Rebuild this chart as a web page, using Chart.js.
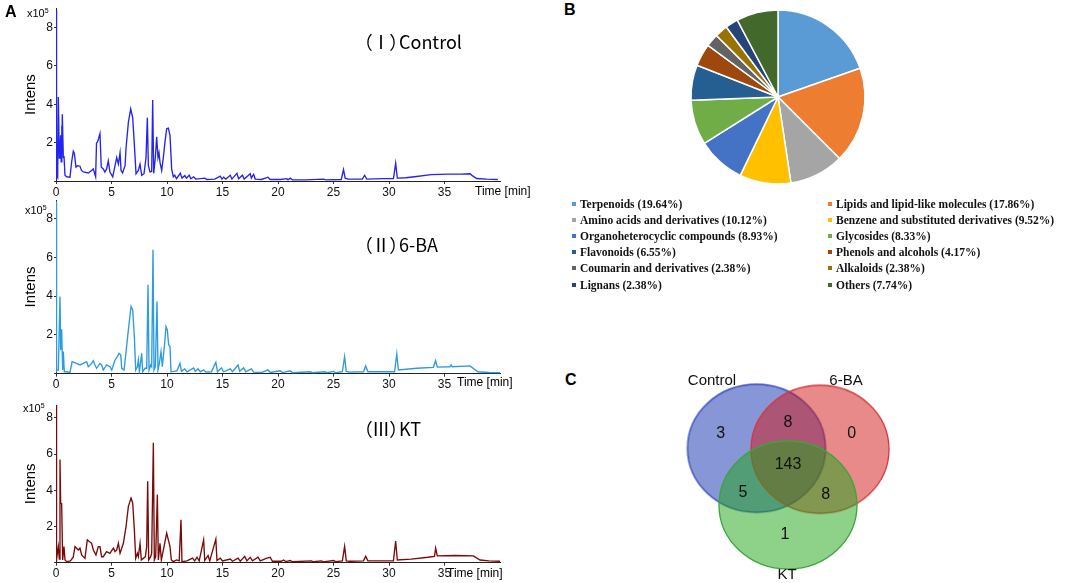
<!DOCTYPE html>
<html>
<head>
<meta charset="utf-8">
<script src="https://cdn.jsdelivr.net/npm/chart.js@4.4.1/dist/chart.umd.min.js"></script>
<style>
  body { margin: 0; background: #fff; width: 1084px; height: 583px; position: relative; overflow: hidden; font-family: "Liberation Sans", Arial, sans-serif; }
  canvas { position: absolute; }
  .t { position: absolute; white-space: nowrap; color: #000; line-height: 1; }
  .letter { font-weight: bold; font-size: 16px; }
  .exp { font-size: 11px; }
  .exp sup { font-size: 7px; vertical-align: 4px; }
  .ttl { font-family: "Noto Sans CJK SC", "Noto Sans", sans-serif; font-size: 18px; font-feature-settings: "palt"; }
  .time { font-size: 12px; }
  .leg { position: absolute; white-space: nowrap; font-family: "Liberation Serif", "Times New Roman", serif; font-weight: bold; font-size: 11.5px; line-height: 16px; color: #111; }
  .leg i { display: inline-block; width: 4px; height: 4px; margin-right: 4px; vertical-align: 2px; }
</style>
</head>
<body>
<canvas id="controlChart" width="520" height="200" style="left:0;top:0"></canvas>
<canvas id="baChart" width="520" height="196" style="left:0;top:192px"></canvas>
<canvas id="ktChart" width="520" height="193" style="left:0;top:390px"></canvas>
<canvas id="pieChart" width="190" height="190" style="left:683px;top:2px"></canvas>
<canvas id="vennChart" width="280" height="223" style="left:650px;top:360px"></canvas>

<div class="t letter" style="left:5px;top:4px">A</div>
<div class="t letter" style="left:564px;top:2px">B</div>
<div class="t letter" style="left:565px;top:372px">C</div>

<div class="t exp" style="left:27px;top:7px">x10<sup>5</sup></div>
<div class="t exp" style="left:25px;top:204px">x10<sup>5</sup></div>
<div class="t exp" style="left:23px;top:402px">x10<sup>5</sup></div>

<div class="t ttl" style="left:363px;top:32px">（Ⅰ）Control</div>
<div class="t ttl" style="left:363px;top:235px">（Ⅱ）6-BA</div>
<div class="t ttl" style="left:363px;top:419px">（Ⅲ）KT</div>

<div class="t time" style="left:475px;top:185px">Time [min]</div>
<div class="t time" style="left:457px;top:376px">Time [min]</div>
<div class="t time" style="left:447px;top:567px">Time [min]</div>

<div id="pieLegend"></div>

<script>
// time axis ticks (min) and intensity ticks (x10^5)
const timeTicks = [0, 5, 10, 15, 20, 25, 30, 35];
const intensTicks = [0, 2, 4, 6, 8];

// [time (min), intensity (x10^5)]
const controlTrace = [
  [0, 0.1], [0.02, 8.9], [0.08, 0.3], [0.15, 0.2], [0.21, 4.38], [0.3, 1.2], [0.36, 1.55], [0.42, 2.38], [0.47, 1.0],
  [0.51, 2.88], [0.54, 1.5], [0.57, 3.47], [0.66, 1.22], [0.72, 1.3], [0.81, 0.3], [0.96, 0.22], [1.26, 0.2], [1.41, 1.0],
  [1.56, 1.55], [1.65, 1.45], [1.8, 0.72], [1.95, 0.8], [2.16, 0.77], [2.3, 0.55], [2.46, 0.47], [2.91, 0.42], [3.21, 0.55],
  [3.36, 0.63], [3.57, 0.22], [3.65, 1.97], [3.75, 2.05], [3.84, 2.22], [3.96, 2.47], [4.08, 0.72], [4.26, 0.63], [4.4, 0.47],
  [4.56, 0.63], [4.71, 1.05], [4.86, 0.47], [5.11, 0.22], [5.32, 0.8], [5.47, 1.22], [5.62, 0.88], [5.77, 1.47], [5.86, 0.55],
  [6.0, 0.42], [6.22, 0.8], [6.31, 1.72], [6.52, 3.05], [6.73, 3.75], [6.91, 3.3], [7.06, 1.88], [7.21, 0.38], [7.42, 0.55],
  [7.57, 0.88], [7.72, 0.3], [7.93, 0.38], [8.11, 1.22], [8.23, 3.3], [8.32, 0.8], [8.47, 0.47], [8.62, 0.5], [8.71, 4.22],
  [8.8, 0.4], [8.95, 1.22], [9.07, 2.3], [9.19, 1.22], [9.28, 1.47], [9.37, 0.97], [9.52, 0.55], [9.67, 1.22], [9.82, 2.05],
  [9.97, 2.72], [10.12, 2.75], [10.27, 2.38], [10.42, 0.63], [10.57, 0.22], [10.7, 0.3], [10.85, 0.12], [11.2, 0.4],
  [11.35, 0.15], [11.6, 0.28], [11.75, 0.15], [12.0, 0.3], [12.15, 0.12], [12.4, 0.22], [12.6, 0.1], [13.4, 0.15], [13.6, 0.08],
  [14.3, 0.1], [14.8, 0.25], [14.95, 0.1], [15.1, 0.2], [15.3, 0.1], [15.7, 0.3], [15.85, 0.1], [16.3, 0.4], [16.45, 0.12],
  [16.8, 0.3], [16.95, 0.1], [17.5, 0.38], [17.6, 0.15], [17.8, 0.35], [17.95, 0.1], [18.5, 0.08], [19.1, 0.2], [19.3, 0.08],
  [20.2, 0.08], [20.8, 0.12], [20.9, 0.06], [21.1, 0.15], [21.3, 0.06], [22.5, 0.06], [24.1, 0.1], [24.3, 0.06], [25.7, 0.08],
  [25.9, 0.6], [26.05, 0.15], [26.3, 0.1], [27.6, 0.1], [27.8, 0.3], [28.0, 0.1], [29.5, 0.12], [30.4, 0.12], [30.6, 0.92],
  [30.75, 0.15], [31.5, 0.17], [32.3, 0.22], [33.8, 0.33], [35.3, 0.36], [36.5, 0.36], [37.3, 0.38], [37.5, 0.28], [37.9, 0.13],
  [38.8, 0.1], [39.8, 0.08]
];

const baTrace = [
  [0, 0.1], [0.02, 8.9], [0.08, 0.2], [0.21, 0.19], [0.36, 3.98], [0.42, 1.22], [0.51, 2.29], [0.6, 0.19], [0.66, 1.14],
  [0.75, 0.1], [0.96, 0.1], [1.26, 0.05], [1.45, 0.62], [1.56, 0.6], [1.86, 0.53], [2.16, 0.45], [2.46, 0.53], [2.76, 0.62],
  [2.91, 0.36], [3.21, 0.53], [3.36, 0.67], [3.51, 0.45], [3.66, 0.28], [3.96, 0.53], [4.11, 0.45], [4.26, 0.19], [4.56, 0.45],
  [4.86, 0.36], [5.02, 0.19], [5.32, 0.71], [5.53, 0.88], [5.68, 1.05], [5.83, 0.97], [5.92, 0.28], [6.13, 0.19], [6.31, 1.14],
  [6.52, 2.26], [6.76, 3.47], [6.91, 3.29], [7.06, 1.91], [7.18, 0.19], [7.33, 0.36], [7.42, 0.71], [7.51, 0.1], [7.72, 1.05],
  [7.81, 0.1], [8.02, 0.28], [8.17, 0.28], [8.29, 4.59], [8.38, 0.19], [8.53, 0.45], [8.62, 0.36], [8.74, 6.4], [8.83, 0.19],
  [8.95, 0.36], [9.1, 3.72], [9.19, 0.19], [9.31, 0.53], [9.46, 1.14], [9.58, 0.36], [9.76, 1.4], [9.91, 2.43], [10.03, 2.26],
  [10.15, 1.48], [10.27, 1.4], [10.36, 0.1], [10.6, 0.12], [10.9, 0.15], [11.17, 0.53], [11.3, 0.12], [11.6, 0.25], [11.8, 0.1],
  [12.4, 0.3], [12.55, 0.12], [12.8, 0.25], [13.0, 0.1], [13.3, 0.2], [13.5, 0.08], [14.0, 0.1], [14.4, 0.59], [14.55, 0.1],
  [14.9, 0.3], [15.1, 0.1], [15.7, 0.25], [15.9, 0.1], [16.4, 0.45], [16.55, 0.12], [16.9, 0.3], [17.1, 0.1], [17.6, 0.25],
  [17.8, 0.08], [18.5, 0.06], [19.1, 0.2], [19.3, 0.06], [20.2, 0.15], [20.4, 0.06], [21.1, 0.15], [21.3, 0.05], [22.9, 0.1],
  [23.1, 0.05], [24.2, 0.1], [24.4, 0.05], [25.0, 0.12], [25.2, 0.05], [25.8, 0.1], [26.0, 0.88], [26.15, 0.12], [26.4, 0.08],
  [27.7, 0.1], [27.9, 0.4], [28.1, 0.1], [30.5, 0.1], [30.7, 1.02], [30.85, 0.19], [32.5, 0.28], [34.0, 0.33], [34.2, 0.67],
  [34.35, 0.34], [35.5, 0.36], [35.6, 0.45], [35.7, 0.36], [37.3, 0.4], [38.0, 0.1], [39.0, 0.06], [40.0, 0.05]
];

const ktTrace = [
  [0, 0.1], [0.02, 8.7], [0.08, 0.2], [0.21, 0.89], [0.3, 0.2], [0.36, 5.7], [0.42, 3.3], [0.51, 3.26], [0.6, 0.15],
  [0.72, 0.89], [0.81, 0.15], [0.96, 0.06], [1.3, 0.1], [1.55, 0.3], [1.71, 0.89], [1.86, 0.8], [2.01, 0.7], [2.16, 0.8],
  [2.31, 0.43], [2.61, 0.24], [2.82, 1.26], [3.0, 1.17], [3.21, 1.07], [3.36, 0.7], [3.6, 0.43], [3.81, 0.89], [3.96, 0.89],
  [4.11, 0.33], [4.26, 0.33], [4.56, 0.61], [4.86, 0.52], [5.17, 0.8], [5.32, 0.61], [5.47, 0.7], [5.62, 1.07], [5.77, 0.52],
  [5.92, 0.8], [6.07, 1.07], [6.31, 2.0], [6.52, 3.11], [6.76, 3.57], [6.91, 3.3], [7.06, 1.81], [7.18, 0.24], [7.33, 0.52],
  [7.42, 0.33], [7.57, 1.07], [7.69, 0.15], [7.87, 0.24], [8.05, 0.33], [8.17, 0.89], [8.26, 4.5], [8.35, 0.15], [8.53, 0.33],
  [8.62, 0.52], [8.77, 6.63], [8.86, 0.15], [8.98, 0.33], [9.13, 3.76], [9.22, 0.15], [9.37, 1.07], [9.49, 0.15], [9.67, 0.7],
  [9.82, 1.17], [9.97, 1.63], [10.12, 1.26], [10.27, 0.89], [10.39, 0.15], [10.57, 0.06], [10.87, 0.15], [11.1, 0.1],
  [11.26, 2.37], [11.35, 0.06], [11.8, 0.1], [12.3, 0.25], [12.5, 0.1], [12.7, 0.3], [12.9, 0.1], [13.3, 1.26], [13.4, 0.12],
  [13.7, 0.4], [13.85, 0.1], [14.4, 1.3], [14.5, 0.12], [14.8, 0.25], [15.0, 0.1], [15.7, 0.2], [15.9, 0.08], [16.4, 0.25],
  [16.6, 0.08], [17.0, 0.35], [17.2, 0.1], [17.5, 0.3], [17.7, 0.1], [18.2, 0.3], [18.4, 0.1], [19.0, 0.25], [19.3, 0.3],
  [19.5, 0.08], [20.3, 0.08], [20.5, 0.15], [20.7, 0.06], [21.1, 0.12], [21.3, 0.05], [23.0, 0.1], [23.2, 0.05], [23.9, 0.1],
  [24.1, 0.05], [25.0, 0.12], [25.2, 0.06], [25.8, 0.1], [26.0, 0.9], [26.15, 0.1], [26.5, 0.08], [27.7, 0.1], [27.9, 0.35],
  [28.1, 0.1], [30.4, 0.1], [30.6, 1.2], [30.75, 0.15], [32.0, 0.2], [33.5, 0.3], [34.1, 0.35], [34.2, 0.8], [34.35, 0.38],
  [36.0, 0.4], [37.6, 0.38], [38.2, 0.15], [39.0, 0.1], [40.0, 0.08]
];

// compound classes (%)
const classLabels = [
  "Terpenoids", "Lipids and lipid-like molecules", "Amino acids and derivatives", "Benzene and substituted derivatives",
  "Organoheterocyclic compounds", "Glycosides", "Flavonoids", "Phenols and alcohols",
  "Coumarin and derivatives", "Alkaloids", "Lignans", "Others"
];
const classShares = [19.64, 17.86, 10.12, 9.52, 8.93, 8.33, 6.55, 4.17, 2.38, 2.38, 2.38, 7.74];
const classColors = ['#5b9bd5', '#ed7d31', '#a5a5a5', '#ffc000', '#4472c4', '#70ad47', '#255e91', '#9e480e',
  '#636363', '#997300', '#264478', '#43682b'];

// Venn: set names, region counts (C only, 6-BA only, KT only, C&6-BA, C&KT, 6-BA&KT, all three)
const vennSets = ["Control", "6-BA", "KT"];
const vennCounts = [3, 0, 1, 8, 5, 8, 143];

// layout for the venn panel (chart units = px inside its canvas)
const vennCenters = [[106.5, 88.3], [170, 89.3], [138, 145]];
const vennFills = ['rgba(15,45,173,0.5)', 'rgba(209,21,21,0.5)', 'rgba(29,165,21,0.5)'];
const vennStrokes = ['#3446c0', '#d6363a', '#3aa63a'];
const vennRegionAnchors = [[70.7, 74], [201.7, 73.3], [135, 175], [138, 62.7], [93, 133], [175.7, 135], [138, 105]];
const vennNameAnchors = [[62, 21], [196, 21], [137, 215]];

function renderChromatogram(id, trace, color, yMax, padTop, xHeight) {
    new Chart(document.getElementById(id).getContext("2d"), {
        type: "scatter",
        data: {
            datasets: [{
                data: trace.map(([x, y]) => ({ x: x, y: y })),
                showLine: true,
                borderColor: color,
                borderWidth: 1.35,
                pointRadius: 0,
                tension: 0
            }]
        },
        options: {
            responsive: false,
            animation: false,
            events: [],
            layout: { autoPadding: false, padding: { top: padTop, right: 20, left: 0, bottom: 0 } },
            plugins: { legend: { display: false }, tooltip: { enabled: false } },
            scales: {
                x: {
                    type: "linear", min: 0, max: 40,
                    afterBuildTicks: (s) => { s.ticks = timeTicks.map(v => ({ value: v })); },
                    afterFit: (s) => { s.height = xHeight; },
                    grid: { display: true, drawOnChartArea: false, tickLength: 3, color: '#333' },
                    border: { color: '#222', width: 1 },
                    ticks: { color: '#111', padding: 1, font: { size: 12, family: 'Liberation Sans' } }
                },
                y: {
                    type: "linear", min: 0, max: yMax,
                    afterBuildTicks: (s) => { s.ticks = intensTicks.map(v => ({ value: v })); },
                    afterFit: (s) => { s.width = 56; },
                    grid: { display: true, drawOnChartArea: false, tickLength: 2, color: '#333' },
                    border: { color: '#222', width: 1 },
                    ticks: { color: '#111', padding: 1, font: { size: 12, family: 'Liberation Sans' },
                             callback: (v) => v === 0 ? '' : v },
                    title: { display: true, text: 'Intens', color: '#000', padding: { top: 22, bottom: 0 },
                             font: { size: 15, family: 'Liberation Sans' } }
                }
            }
        }
    });
}

function renderPieChart(id) {
    new Chart(document.getElementById(id).getContext("2d"), {
        type: "pie",
        data: {
            labels: classLabels,
            datasets: [{
                data: classShares,
                backgroundColor: classColors,
                borderColor: '#ffffff',
                borderWidth: 1.5
            }]
        },
        options: {
            responsive: false,
            animation: false,
            events: [],
            radius: 87,
            layout: { padding: 0 },
            plugins: { legend: { display: false }, tooltip: { enabled: false } }
        }
    });

    const box = document.getElementById('pieLegend');
    classLabels.forEach((label, i) => {
        const d = document.createElement('div');
        d.className = 'leg';
        d.style.left = (i % 2 ? 828 : 572) + 'px';
        d.style.top = (196 + Math.floor(i / 2) * 16.1) + 'px';
        d.innerHTML = '<i style="background:' + classColors[i] + '"></i>' + label + ' (' + classShares[i].toFixed(2) + '%)';
        box.appendChild(d);
    });
}

function ellipseImage(fill, stroke) {
    const c = document.createElement('canvas');
    c.width = 142; c.height = 132;
    const g = c.getContext('2d');
    g.beginPath();
    g.ellipse(71, 66, 69, 64, 0, 0, Math.PI * 2);
    g.fillStyle = fill;
    g.fill();
    g.lineWidth = 1.3;
    g.strokeStyle = stroke;
    g.stroke();
    return c;
}

function renderVenn(id) {
    const vennText = {
        id: 'vennText',
        afterDatasetsDraw(chart) {
            const { ctx, scales: { x, y } } = chart;
            ctx.save();
            ctx.textAlign = 'center';
            ctx.textBaseline = 'middle';
            ctx.fillStyle = '#111';
            ctx.font = '16px "Liberation Sans", Arial';
            vennCounts.forEach((n, i) => {
                const [ax, ay] = vennRegionAnchors[i];
                ctx.fillText(String(n), x.getPixelForValue(ax), y.getPixelForValue(ay));
            });
            ctx.font = '15px "Liberation Sans", Arial';
            vennSets.forEach((name, i) => {
                const [ax, ay] = vennNameAnchors[i];
                ctx.fillText(name, x.getPixelForValue(ax), y.getPixelForValue(ay));
            });
            ctx.restore();
        }
    };
    new Chart(document.getElementById(id).getContext("2d"), {
        type: "scatter",
        data: {
            datasets: [{
                data: vennCenters.map(([x, y], i) => ({ x: x, y: y, set: vennSets[i] })),
                pointStyle: vennFills.map((f, i) => ellipseImage(f, vennStrokes[i])),
                pointRadius: 66
            }]
        },
        options: {
            responsive: false,
            animation: false,
            events: [],
            layout: { autoPadding: false, padding: 0 },
            plugins: { legend: { display: false }, tooltip: { enabled: false } },
            scales: {
                x: { type: 'linear', min: 0, max: 280, display: false },
                y: { type: 'linear', min: 0, max: 223, reverse: true, display: false }
            }
        },
        plugins: [vennText]
    });
}

renderChromatogram('controlChart', controlTrace, '#2424ee', 9.0, 3, 19);
renderChromatogram('baChart', baTrace, '#2c9be0', 8.95, 8, 14.3);
renderChromatogram('ktChart', ktTrace, '#7a0a0a', 8.71, 15, 20.3);
renderPieChart('pieChart');
renderVenn('vennChart');
</script>
</body>
</html>
